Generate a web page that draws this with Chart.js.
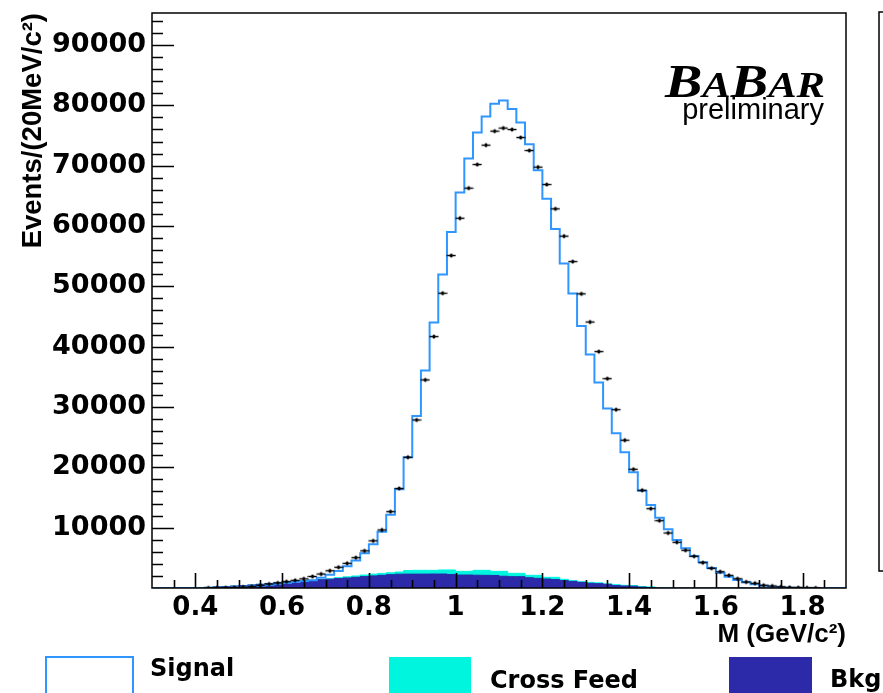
<!DOCTYPE html>
<html>
<head>
<meta charset="utf-8">
<title>M (GeV/c2) distribution</title>
<script src="https://cdn.jsdelivr.net/npm/chart.js@4.4.1/dist/chart.umd.min.js"></script>
<style>
  html, body { margin: 0; padding: 0; background: #fff; }
  #wrap { position: relative; width: 883px; height: 693px; }
</style>
</head>
<body>
<div id="wrap"><canvas id="massChart"></canvas></div>
<script>
// 80 bins of 20 MeV/c^2 between 0.3 and 1.9 GeV/c^2
const binLow = 0.3;
const binWidth = 0.02;

// MC total (signal histogram outline), one value per bin
const signal = [
    0, 0, 0, 0, 0, 0, 20, 50, 90, 140,
    200, 280, 380, 500, 650, 820, 1000, 1150, 1300, 1700,
    2200, 2800, 3600, 4550, 5750, 7270, 9310, 12120, 16360, 21670,
    28520, 36030, 43990, 51950, 59020, 65540, 71180, 75490, 78140, 80250,
    80800, 79370, 77150, 73560, 69250, 64500, 59520, 53770, 48800, 43440,
    38690, 34040, 29730, 25650, 22500, 19180, 16130, 13760, 11660, 9730,
    7960, 6580, 5310, 4260, 3320, 2540, 1880, 1330, 940, 610,
    390, 220, 120, 60, 30, 0, 0, 0, 0, 0
];

// cross feed contribution (stacked on top of bkg)
const crossFeed = [
    0, 0, 0, 0, 0, 0, 0, 0, 0, 0,
    0, 0, 0, 0, 0, 0, 0, 20, 30, 30,
    60, 150, 190, 220, 260, 300, 320, 320, 360, 600,
    630, 630, 610, 670, 740, 610, 610, 810, 830, 680,
    810, 550, 550, 400, 500, 280, 370, 220, 120, 100,
    150, 130, 80, 150, 110, 100, 100, 100, 60, 0,
    0, 0, 0, 0, 0, 0, 0, 0, 0, 0,
    0, 0, 0, 0, 0, 0, 0, 0, 0, 0
];

// combinatorial background
const bkg = [
    0, 0, 0, 0, 0, 30, 100, 180, 250, 320,
    390, 500, 610, 720, 850, 970, 1080, 1160, 1260, 1370,
    1460, 1560, 1660, 1770, 1890, 2000, 2100, 2210, 2290, 2300,
    2300, 2300, 2320, 2320, 2250, 2150, 2150, 2120, 2100, 2080,
    1950, 1880, 1880, 1700, 1600, 1490, 1400, 1220, 1100, 940,
    780, 720, 610, 400, 330, 300, 150, 80, 0, 0,
    0, 0, 0, 0, 0, 0, 0, 0, 0, 0,
    0, 0, 0, 0, 0, 0, 0, 0, 0, 0
];

// data, null where the bin is empty
const dataCounts = [
    null, null, null, null, null, null, 10, 30, 50, 90,
    150, 230, 440, 660, 830, 1050, 1270, 1520, 1910, 2320,
    2850, 3430, 4090, 5030, 6160, 7820, 9620, 12650, 16500, 21670,
    27850, 34490, 41670, 48860, 55100, 61290, 66270, 70190, 73400, 75720,
    76220, 75990, 74660, 72510, 69750, 66870, 62840, 58310, 54100, 48750,
    44080, 39180, 34700, 29560, 24490, 19680, 16200, 13150, 11160, 9120,
    7580, 6250, 5260, 4200, 3270, 2700, 2100, 1540, 1000, 780,
    450, 330, 200, 100, 60, 30, 10, null, null, null
];

const xTickLabels = [0.4, 0.6, 0.8, 1, 1.2, 1.4, 1.6, 1.8];
const yTickLabels = [10000, 20000, 30000, 40000, 50000, 60000, 70000, 80000, 90000];

const signalColor = '#2f96ff';
const crossFeedColor = '#00f5df';
const bkgColor = '#2c2aa8';

// points at the left edge of each bin + closing point, drawn with stepped lines
function stepPoints(values) {
    const pts = values.map((v, i) => ({ x: binLow + i * binWidth, y: v }));
    pts.push({ x: binLow + values.length * binWidth, y: values[values.length - 1] });
    return pts;
}

const crossFeedTop = bkg.map((v, i) => v + crossFeed[i]);

const dataPts = [];
dataCounts.forEach((v, i) => {
    if (v !== null) dataPts.push({ x: binLow + (i + 0.5) * binWidth, y: v });
});

// data marker: dot with horizontal bin bar and tiny vertical error
function makeMarker() {
    const c = document.createElement('canvas');
    c.width = 10;
    c.height = 7;
    const g = c.getContext('2d');
    g.fillStyle = '#000';
    g.fillRect(0.5, 2.8, 9, 1.4);
    g.fillRect(4.4, 1.5, 1.2, 4);
    g.beginPath();
    g.arc(5, 3.5, 1.7, 0, Math.PI * 2);
    g.fill();
    return c;
}

// frame, inside ticks, legend, logo
const rootFrame = {
    id: 'rootFrame',
    afterDraw(chart) {
        const ctx = chart.ctx;
        const area = chart.chartArea;
        const xs = chart.scales.x;
        const ys = chart.scales.y;
        ctx.save();
        ctx.strokeStyle = '#000';
        ctx.lineWidth = 1.6;

        // y ticks every 2000, major every 10000
        ctx.beginPath();
        for (let v = 2000; v < ys.max; v += 2000) {
            const y = Math.round(ys.getPixelForValue(v)) + 0.5;
            const len = (v % 10000 === 0) ? 22 : 11;
            ctx.moveTo(area.left, y);
            ctx.lineTo(area.left + len, y);
        }
        // x ticks every 0.05, major every 0.2
        for (let i = 1; i < 32; i++) {
            const x = Math.round(xs.getPixelForValue(binLow + i * 0.05)) + 0.5;
            const len = ((i - 2) % 4 === 0) ? 15 : 8;
            ctx.moveTo(x, area.bottom);
            ctx.lineTo(x, area.bottom - len);
        }
        ctx.stroke();

        // frame
        ctx.lineWidth = 1.5;
        ctx.strokeRect(area.left, area.top, area.right - area.left, area.bottom - area.top);

        // cut-off box on the right
        ctx.strokeRect(879, 12, 20, 559);

        // legend
        ctx.fillStyle = '#fff';
        ctx.fillRect(46, 657, 87, 40);
        ctx.strokeStyle = signalColor;
        ctx.lineWidth = 2;
        ctx.strokeRect(46, 657, 87, 40);
        ctx.fillStyle = crossFeedColor;
        ctx.fillRect(389, 657, 82, 40);
        ctx.fillStyle = bkgColor;
        ctx.fillRect(729, 657, 83, 40);

        ctx.fillStyle = '#000';
        ctx.font = 'bold 24px "DejaVu Sans"';
        ctx.textBaseline = 'alphabetic';
        ctx.textAlign = 'left';
        ctx.fillText('Signal', 150, 676);
        ctx.fillText('Cross Feed', 490, 688);
        ctx.fillText('Bkg', 830, 687);

        // BaBar logo
        const parts = [['B', 46], ['A', 35], ['B', 46], ['AR', 35]];
        let w = 0;
        parts.forEach(p => {
            ctx.font = 'italic bold ' + p[1] + 'px "Liberation Serif"';
            w += ctx.measureText(p[0]).width;
        });
        const sx = 160 / w;
        ctx.save();
        ctx.translate(665, 97);
        ctx.scale(sx, 1);
        let cx = 0;
        parts.forEach(p => {
            ctx.font = 'italic bold ' + p[1] + 'px "Liberation Serif"';
            ctx.fillText(p[0], cx, 0);
            cx += ctx.measureText(p[0]).width;
        });
        ctx.restore();

        ctx.font = '29px "Liberation Sans"';
        ctx.textAlign = 'right';
        ctx.fillText('preliminary', 824, 119);
        ctx.restore();
    }
};

const tickFont = { family: 'DejaVu Sans', weight: 'bold', size: 27 };
const titleFont = { family: 'Liberation Sans', weight: 'bold', size: 26 };

const ctx = document.getElementById('massChart').getContext('2d');
const massChart = new Chart(ctx, {
    type: 'line',
    data: {
        datasets: [
            {
                label: 'Data',
                type: 'scatter',
                data: dataPts,
                pointStyle: makeMarker(),
                pointRadius: 5,
                showLine: false,
                order: 0
            },
            {
                label: 'Signal',
                data: stepPoints(signal),
                stepped: true,
                borderColor: signalColor,
                borderWidth: 2,
                pointRadius: 0,
                fill: false,
                order: 1
            },
            {
                label: 'Bkg',
                data: stepPoints(bkg),
                stepped: true,
                borderColor: bkgColor,
                backgroundColor: bkgColor,
                borderWidth: 1,
                pointRadius: 0,
                fill: 'origin',
                order: 2
            },
            {
                label: 'Cross Feed',
                data: stepPoints(crossFeedTop),
                stepped: true,
                borderColor: crossFeedColor,
                backgroundColor: crossFeedColor,
                borderWidth: 1,
                pointRadius: 0,
                fill: 'origin',
                order: 3
            }
        ]
    },
    options: {
        responsive: true,
        maintainAspectRatio: false,
        animation: false,
        layout: { padding: { top: 13, right: 37, left: 0, bottom: 0 } },
        plugins: {
            legend: { display: false },
            tooltip: { enabled: false }
        },
        scales: {
            x: {
                type: 'linear',
                min: 0.3,
                max: 1.9,
                grid: { display: false, drawTicks: false },
                border: { display: false },
                afterBuildTicks: (s) => { s.ticks = xTickLabels.map(v => ({ value: v })); },
                afterFit: (s) => {
                    s.height = 105;
                    s.paddingLeft = 0;
                    s.paddingRight = 0;
                },
                ticks: {
                    color: '#000',
                    font: { family: 'DejaVu Sans', weight: 'bold', size: 26 },
                    padding: 5,
                    maxRotation: 0,
                    autoSkip: false,
                    callback: (v) => String(v)
                },
                title: {
                    display: true,
                    text: 'M (GeV/c²)',
                    align: 'end',
                    color: '#000',
                    font: titleFont,
                    padding: { top: 0, bottom: 43 }
                }
            },
            y: {
                min: 0,
                max: 95300,
                grid: { display: false, drawTicks: false },
                border: { display: false },
                afterBuildTicks: (s) => { s.ticks = yTickLabels.map(v => ({ value: v })); },
                afterFit: (s) => {
                    s.width = 152;
                    s.paddingTop = 0;
                    s.paddingBottom = 0;
                },
                ticks: {
                    color: '#000',
                    font: tickFont,
                    padding: 6,
                    autoSkip: false,
                    callback: (v) => String(v)
                },
                title: {
                    display: true,
                    text: 'Events/(20MeV/c²)',
                    align: 'end',
                    color: '#000',
                    font: { family: 'Liberation Sans', weight: 'bold', size: 27.5 },
                    padding: { top: 17, bottom: 0 }
                }
            }
        }
    },
    plugins: [rootFrame]
});
</script>
</body>
</html>
